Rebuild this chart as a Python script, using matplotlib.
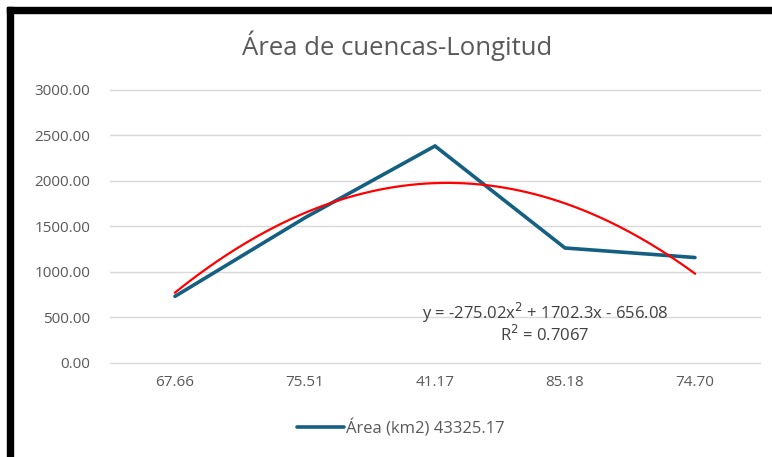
import numpy as np
import matplotlib
matplotlib.use("Agg")
import matplotlib.pyplot as plt
from matplotlib.patches import Rectangle

plt.rcParams['font.family'] = ['Open Sans', 'DejaVu Sans']

# Category labels (longitud) and series values (área)
categories = ["67.66", "75.51", "41.17", "85.18", "74.70"]
area_km2 = [730, 1595, 2384, 1262, 1157]
series_label = "Área (km2) 43325.17"

# Polynomial (order 2) trendline coefficients and fit quality
poly_coeffs = [-275.02, 1702.3, -656.08]
r_squared = 0.7067

yticks = [0, 500, 1000, 1500, 2000, 2500, 3000]

W, H = 772, 457
fig = plt.figure(figsize=(W / 100, H / 100), dpi=100)
fig.patch.set_facecolor("white")

ax = fig.add_axes([110 / W, 1 - 362.7 / H, 650 / W, (362.7 - 90) / H])

x = np.arange(1, len(categories) + 1)
ax.plot(x, area_km2, color="#156082", lw=2.6, solid_capstyle="round",
        solid_joinstyle="miter", zorder=3, label=series_label)

xs = np.linspace(1, len(categories), 200)
ax.plot(xs, np.polyval(poly_coeffs, xs), color="#ff0000", lw=1.6, zorder=4)

ax.set_xlim(0.5, len(categories) + 0.5)
ax.set_ylim(0, 3000)
ax.set_yticks(yticks)
ax.set_yticklabels([f"{v:.2f}" for v in yticks])
ax.set_xticks(x)
ax.set_xticklabels(categories)
ax.tick_params(length=0, labelsize=11, labelcolor="#595959")
ax.tick_params(axis="y", pad=14)
ax.tick_params(axis="x", pad=9)
for s in ax.spines.values():
    s.set_visible(False)
ax.grid(axis="y", color="#d9d9d9", lw=1.0, zorder=0)
ax.set_axisbelow(True)
for gl in ax.get_ygridlines():
    gl.set_clip_on(False)

fig.text(397 / W, 1 - 46 / H, "Área de cuencas-Longitud", ha="center", va="center",
         fontsize=18.5, color="#595959")

a, b, c = poly_coeffs
eq = f"y = {a:.2f}x$^{{2}}$ + {b:.1f}x - {abs(c):.2f}"
fig.text(545 / W, 1 - 313 / H, eq, ha="center", va="center", fontsize=12, color="#404040")
fig.text(545 / W, 1 - 335 / H, f"R$^{{2}}$ = {r_squared:.4f}", ha="center", va="center",
         fontsize=12, color="#404040")

leg = fig.legend(loc="center", bbox_to_anchor=(401 / W, 1 - 428 / H), frameon=False,
                 fontsize=12, handlelength=2.8, handletextpad=0.15, labelcolor="#595959")

# Black frame along the left and top edges
fig.patches.append(Rectangle((7 / W, 0), 6 / W, 1 - 7 / H, transform=fig.transFigure,
                             color="black", zorder=10))
fig.patches.append(Rectangle((7 / W, 1 - 12.5 / H), 1 - 7 / W, 5.5 / H,
                             transform=fig.transFigure, color="black", zorder=10))

fig.savefig("out.png", dpi=100)
